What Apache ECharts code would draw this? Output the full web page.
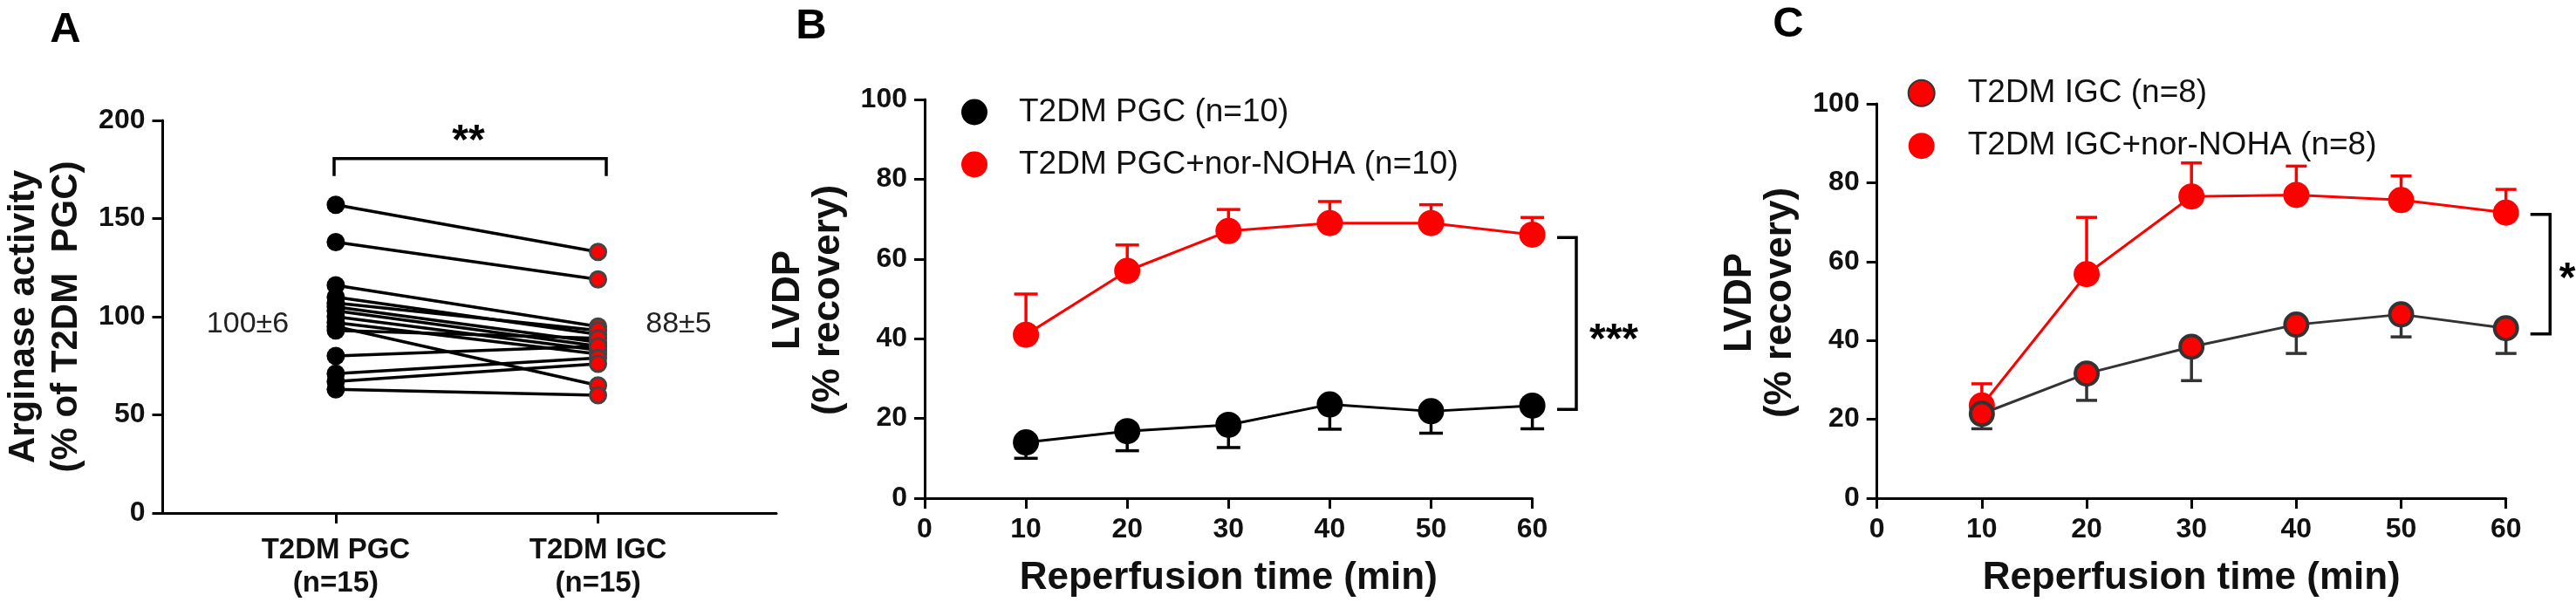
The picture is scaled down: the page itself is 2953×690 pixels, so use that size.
<!DOCTYPE html>
<html>
<head>
<meta charset="UTF-8">
<title>Arginase activity and LVDP recovery</title>
<script src="https://cdn.jsdelivr.net/npm/echarts@6/dist/echarts.min.js"></script>
<style>
    html, body { margin: 0; padding: 0; background: #fff; }
    #chart { width: 2953px; height: 690px; }
</style>
</head>
<body>
<div id="chart"></div>
<script>
    var FONT = 'Liberation Sans';

    // Panel A - paired arginase activity (% of T2DM PGC)
    var groupsA = ['T2DM PGC\n(n=15)', 'T2DM IGC\n(n=15)'];
    var arginasePGC = [157, 138, 116, 110, 107, 105, 103, 100, 97, 95, 93, 80, 71, 67, 63];
    var arginaseIGC = [133, 119, 95, 91, 93, 87, 85, 83, 81, 65, 89, 85, 79, 76, 60];
    var yTicksA = [0, 50, 100, 150, 200];

    // Panels B and C - LVDP recovery over reperfusion
    var timeMin = [10, 20, 30, 40, 50, 60];
    var xTicksBC = [0, 10, 20, 30, 40, 50, 60];
    var yTicksBC = [0, 20, 40, 60, 80, 100];

    var pgcMean = [14.0, 16.8, 18.4, 23.5, 21.8, 23.2];
    var pgcLower = [10.0, 11.9, 12.7, 17.3, 16.3, 17.4];
    var pgcNohaMean = [41.0, 57.0, 67.0, 69.0, 69.0, 66.1];
    var pgcNohaUpper = [51.2, 63.5, 72.4, 74.4, 73.6, 70.4];

    var igcMean = [21.4, 31.6, 38.4, 44.0, 46.6, 43.1];
    var igcLower = [17.6, 24.8, 29.8, 36.7, 40.9, 36.7];
    var igcNohaMean = [23.5, 56.8, 76.5, 76.9, 75.6, 72.4];
    var igcNohaUpper = [29.0, 71.2, 85.0, 84.2, 81.7, 78.3];

    function axisBase(extra) {
        var a = {
            axisLine: { show: true, onZero: false, lineStyle: { color: '#000', width: 3 } },
            axisTick: { show: true, inside: false, length: 12, lineStyle: { color: '#000', width: 3 } },
            splitLine: { show: false },
            axisLabel: { color: '#111', fontFamily: FONT, fontWeight: 'bold', fontSize: 32, margin: 20 }
        };
        for (var k in extra) a[k] = extra[k];
        return a;
    }

    function pairs(xs, ys) {
        return xs.map(function (x, i) { return [x, ys[i]]; });
    }

    function errorBars(idx, means, ends, color, capW) {
        return {
            type: 'custom',
            xAxisIndex: idx,
            yAxisIndex: idx,
            silent: true,
            z: 1,
            data: timeMin.map(function (t, i) { return [t, means[i], ends[i]]; }),
            renderItem: function (params, api) {
                var p = api.coord([api.value(0), api.value(1)]);
                var e = api.coord([api.value(0), api.value(2)]);
                var st = { stroke: color, lineWidth: 3.5 };
                return {
                    type: 'group',
                    children: [
                        { type: 'line', shape: { x1: p[0], y1: p[1], x2: e[0], y2: e[1] }, style: st },
                        { type: 'line', shape: { x1: e[0] - capW / 2, y1: e[1], x2: e[0] + capW / 2, y2: e[1] }, style: st }
                    ]
                };
            }
        };
    }

    function txt(x, y, text, font, fill, rot, lh) {
        return {
            type: 'text', x: x, y: y, rotation: rot || 0, silent: true,
            style: {
                text: text, font: font, fill: fill || '#000',
                align: 'center', verticalAlign: 'middle',
                textAlign: 'center', textVerticalAlign: 'middle',
                lineHeight: lh
            }
        };
    }

    function bracket(points) {
        return {
            type: 'polyline', silent: true,
            shape: { points: points },
            style: { stroke: '#000', lineWidth: 3.5, fill: null }
        };
    }

    var series = [];

    // panel A: one line per animal
    arginasePGC.forEach(function (v, i) {
        series.push({
            type: 'line', xAxisIndex: 0, yAxisIndex: 0, symbol: 'none', silent: true, z: 2,
            data: [[1, v], [2, arginaseIGC[i]]],
            lineStyle: { color: '#000', width: 3.5 }
        });
    });
    series.push({
        type: 'scatter', xAxisIndex: 0, yAxisIndex: 0, z: 3, symbolSize: 21,
        data: arginasePGC.map(function (v) { return [1, v]; }),
        itemStyle: { color: '#000', opacity: 1 }
    });
    series.push({
        type: 'scatter', xAxisIndex: 0, yAxisIndex: 0, z: 3, symbolSize: 18,
        data: arginaseIGC.map(function (v) { return [2, v]; }),
        itemStyle: { color: '#ff0000', borderColor: '#444', borderWidth: 3, opacity: 1 }
    });

    // panel B
    series.push(errorBars(1, pgcMean, pgcLower, '#000', 27));
    series.push(errorBars(1, pgcNohaMean, pgcNohaUpper, '#ff0000', 27));
    series.push({
        name: 'T2DM PGC (n=10)', type: 'line', xAxisIndex: 1, yAxisIndex: 1, z: 3,
        data: pairs(timeMin, pgcMean), symbol: 'circle', symbolSize: 30,
        lineStyle: { color: '#000', width: 3 }, itemStyle: { color: '#000' }
    });
    series.push({
        name: 'T2DM PGC+nor-NOHA (n=10)', type: 'line', xAxisIndex: 1, yAxisIndex: 1, z: 3,
        data: pairs(timeMin, pgcNohaMean), symbol: 'circle', symbolSize: 30,
        lineStyle: { color: '#ff0000', width: 3 }, itemStyle: { color: '#ff0000' }
    });

    // panel C
    series.push(errorBars(2, igcNohaMean, igcNohaUpper, '#ff0000', 24));
    series.push(errorBars(2, igcMean, igcLower, '#333', 24));
    series.push({
        name: 'T2DM IGC+nor-NOHA (n=8)', type: 'line', xAxisIndex: 2, yAxisIndex: 2, z: 3,
        data: pairs(timeMin, igcNohaMean), symbol: 'circle', symbolSize: 30,
        lineStyle: { color: '#ff0000', width: 3 }, itemStyle: { color: '#ff0000' }
    });
    series.push({
        name: 'T2DM IGC (n=8)', type: 'line', xAxisIndex: 2, yAxisIndex: 2, z: 4,
        data: pairs(timeMin, igcMean), symbol: 'circle', symbolSize: 26,
        lineStyle: { color: '#333', width: 3 },
        itemStyle: { color: '#ff0000', borderColor: '#333', borderWidth: 4 }
    });

    function legendText(padLeft) {
        return { color: '#111', fontFamily: FONT, fontSize: 37, lineHeight: 30, padding: [0, 0, 0, padLeft] };
    }

    var nameStyle = { color: '#111', fontFamily: FONT, fontWeight: 'bold', fontSize: 44 };

    var option = {
        animation: false,
        backgroundColor: '#fff',
        grid: [
            { left: 186.5, top: 138, width: 703.5, height: 450 },
            { left: 1060, top: 114, width: 696.6, height: 460.5 },
            { left: 2151.7, top: 119, width: 721, height: 456 }
        ],
        xAxis: [
            axisBase({
                type: 'value', gridIndex: 0, min: 0.34, max: 2.68,
                axisTick: { show: true, length: 12, customValues: [1, 2], lineStyle: { color: '#000', width: 3 } },
                axisLabel: {
                    customValues: [1, 2], color: '#111', fontFamily: FONT, fontWeight: 'bold',
                    fontSize: 33, lineHeight: 38, margin: 24,
                    formatter: function (v) { return groupsA[Math.round(v) - 1]; }
                }
            }),
            axisBase({
                type: 'value', gridIndex: 1, min: xTicksBC[0], max: xTicksBC[xTicksBC.length - 1], interval: 10,
                name: 'Reperfusion time (min)', nameLocation: 'middle', nameGap: 70, nameTextStyle: nameStyle
            }),
            axisBase({
                type: 'value', gridIndex: 2, min: xTicksBC[0], max: xTicksBC[xTicksBC.length - 1], interval: 10,
                name: 'Reperfusion time (min)', nameLocation: 'middle', nameGap: 70, nameTextStyle: nameStyle
            })
        ],
        yAxis: [
            axisBase({ type: 'value', gridIndex: 0, min: yTicksA[0], max: yTicksA[yTicksA.length - 1], interval: 50 }),
            axisBase({ type: 'value', gridIndex: 1, min: yTicksBC[0], max: yTicksBC[yTicksBC.length - 1], interval: 20 }),
            axisBase({ type: 'value', gridIndex: 2, min: yTicksBC[0], max: yTicksBC[yTicksBC.length - 1], interval: 20 })
        ],
        legend: [
            {
                data: ['T2DM PGC (n=10)', 'T2DM PGC+nor-NOHA (n=10)'],
                orient: 'vertical', left: 1102, top: 110, padding: 0, itemGap: 23,
                icon: 'circle', itemWidth: 30, itemHeight: 30, selectedMode: false,
                textStyle: legendText(31)
            },
            {
                data: ['T2DM IGC (n=8)', 'T2DM IGC+nor-NOHA (n=8)'],
                orient: 'vertical', left: 2186.7, top: 88.3, padding: 0, itemGap: 23.4,
                icon: 'circle', itemWidth: 30, itemHeight: 30, selectedMode: false,
                textStyle: legendText(33)
            }
        ],
        series: series,
        graphic: [
            txt(75, 34, 'A', 'bold 49px ' + FONT),
            txt(930, 30, 'B', 'bold 49px ' + FONT),
            txt(2050, 28, 'C', 'bold 49px ' + FONT),
            txt(52, 363, 'Arginase activity\n(% of T2DM  PGC)', 'bold 42px ' + FONT, '#111', Math.PI / 2, 49),
            txt(926.5, 344, 'LVDP\n(% recovery)', 'bold 44px ' + FONT, '#111', Math.PI / 2, 46),
            txt(2018, 347, 'LVDP\n(% recovery)', 'bold 44px ' + FONT, '#111', Math.PI / 2, 46),
            txt(284, 372, '100\u00b16', '34px ' + FONT, '#222'),
            txt(778, 372, '88\u00b15', '34px ' + FONT, '#222'),
            bracket([[383, 201.7], [383, 181.7], [695, 181.7], [695, 201.7]]),
            txt(537, 163, '**', 'bold 48px ' + FONT),
            bracket([[1785, 272.3], [1807, 272.3], [1807, 469.3], [1785, 469.3]]),
            txt(1850, 391, '***', 'bold 48px ' + FONT),
            bracket([[2900.7, 245.7], [2923.3, 245.7], [2923.3, 382.7], [2900.7, 382.7]]),
            txt(2943, 321, '*', 'bold 48px ' + FONT)
        ]
    };

    var chart = echarts.init(document.getElementById('chart'));
    chart.setOption(option);
</script>
</body>
</html>
